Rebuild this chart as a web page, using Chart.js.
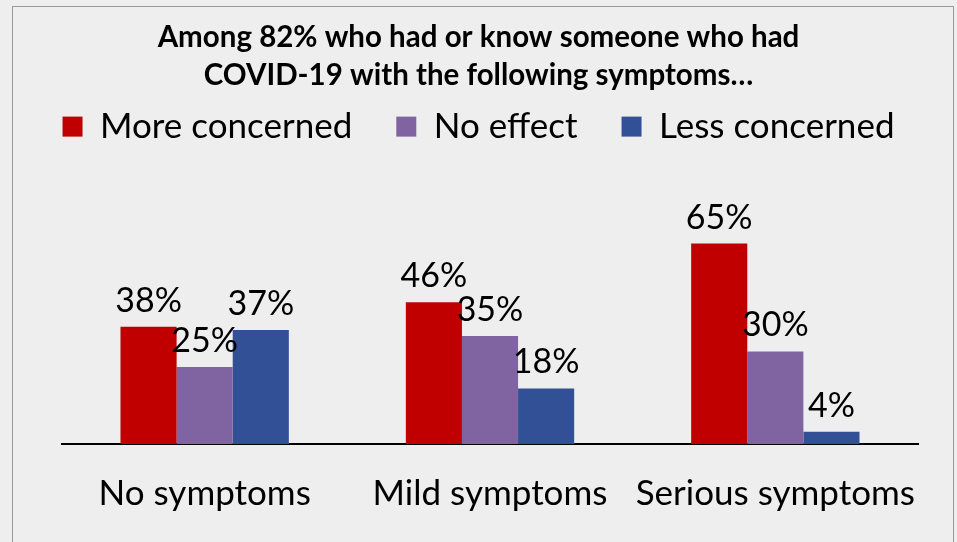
<!DOCTYPE html>
<html><head><meta charset="utf-8">
<script src="https://cdn.jsdelivr.net/npm/chart.js@4"></script>
<style>
html,body{margin:0;padding:0;background:#eeeeee;width:957px;height:542px;overflow:hidden;}
#frame{position:absolute;left:12px;top:6px;width:942px;height:560px;border:1px solid #9a9a9a;box-sizing:border-box;}
#wrap{position:absolute;left:0;top:0;width:957px;height:542px;}
</style></head><body>
<div id="frame"></div>
<div id="wrap"><canvas id="c" width="957" height="542"></canvas></div>
<script>
const categories = ["No symptoms", "Mild symptoms", "Serious symptoms"];
const moreConcerned = [38, 46, 65];
const noEffect = [25, 35, 30];
const lessConcerned = [37, 18, 4];
const seriesNames = ["More concerned", "No effect", "Less concerned"];
const titleLines = ["Among 82% who had or know someone who had", "COVID-19 with the following symptoms…"];

const FONT = "Lato, 'Open Sans', sans-serif";

const valueLabels = {
  id: 'valueLabels',
  afterDatasetsDraw(chart) {
    const ctx = chart.ctx;
    ctx.save();
    ctx.font = "34px " + FONT;
    ctx.fillStyle = "#000";
    ctx.textAlign = "center";
    ctx.textBaseline = "alphabetic";
    chart.data.datasets.forEach((ds, i) => {
      chart.getDatasetMeta(i).data.forEach((bar, j) => {
        ctx.fillText(ds.data[j] + "%", bar.x, bar.y - 15);
      });
    });
    ctx.restore();
  }
};

const hiddenAxis = (pos, w) => ({
  position: pos, display: true, min: 0, max: 94,
  grid: {display: false, drawTicks: false},
  border: {display: false},
  ticks: {display: false},
  afterFit: s => { s.width = w; }
});

new Chart(document.getElementById('c'), {
  type: 'bar',
  data: {
    labels: categories,
    datasets: [
      {label: seriesNames[0], data: moreConcerned, backgroundColor: '#c00000'},
      {label: seriesNames[1], data: noEffect, backgroundColor: '#8064a2'},
      {label: seriesNames[2], data: lessConcerned, backgroundColor: '#325096'}
    ]
  },
  options: {
    responsive: false,
    animation: false,
    layout: {padding: {left: 0, right: 0, top: 0, bottom: -2}},
    datasets: {bar: {barPercentage: 1, categoryPercentage: 0.59}},
    scales: {
      x: {
        grid: {display: false, drawTicks: false},
        border: {display: true, color: '#000', width: 2},
        ticks: {color: '#000', font: {family: FONT, size: 35}, padding: 29}
      },
      y: hiddenAxis('left', 62),
      yR: hiddenAxis('right', 39)
    },
    plugins: {
      tooltip: {enabled: false},
      title: {
        display: true, text: titleLines, color: '#000',
        font: {family: FONT, size: 29.5, weight: 'bold', lineHeight: 1.29},
        padding: {top: 18, bottom: -29}
      },
      legend: {
        display: true,
        labels: {color: '#000', font: {family: FONT, size: 35}, boxWidth: 20, boxHeight: 20, padding: 44}
      }
    }
  },
  plugins: [valueLabels]
});
</script>
</body></html>
